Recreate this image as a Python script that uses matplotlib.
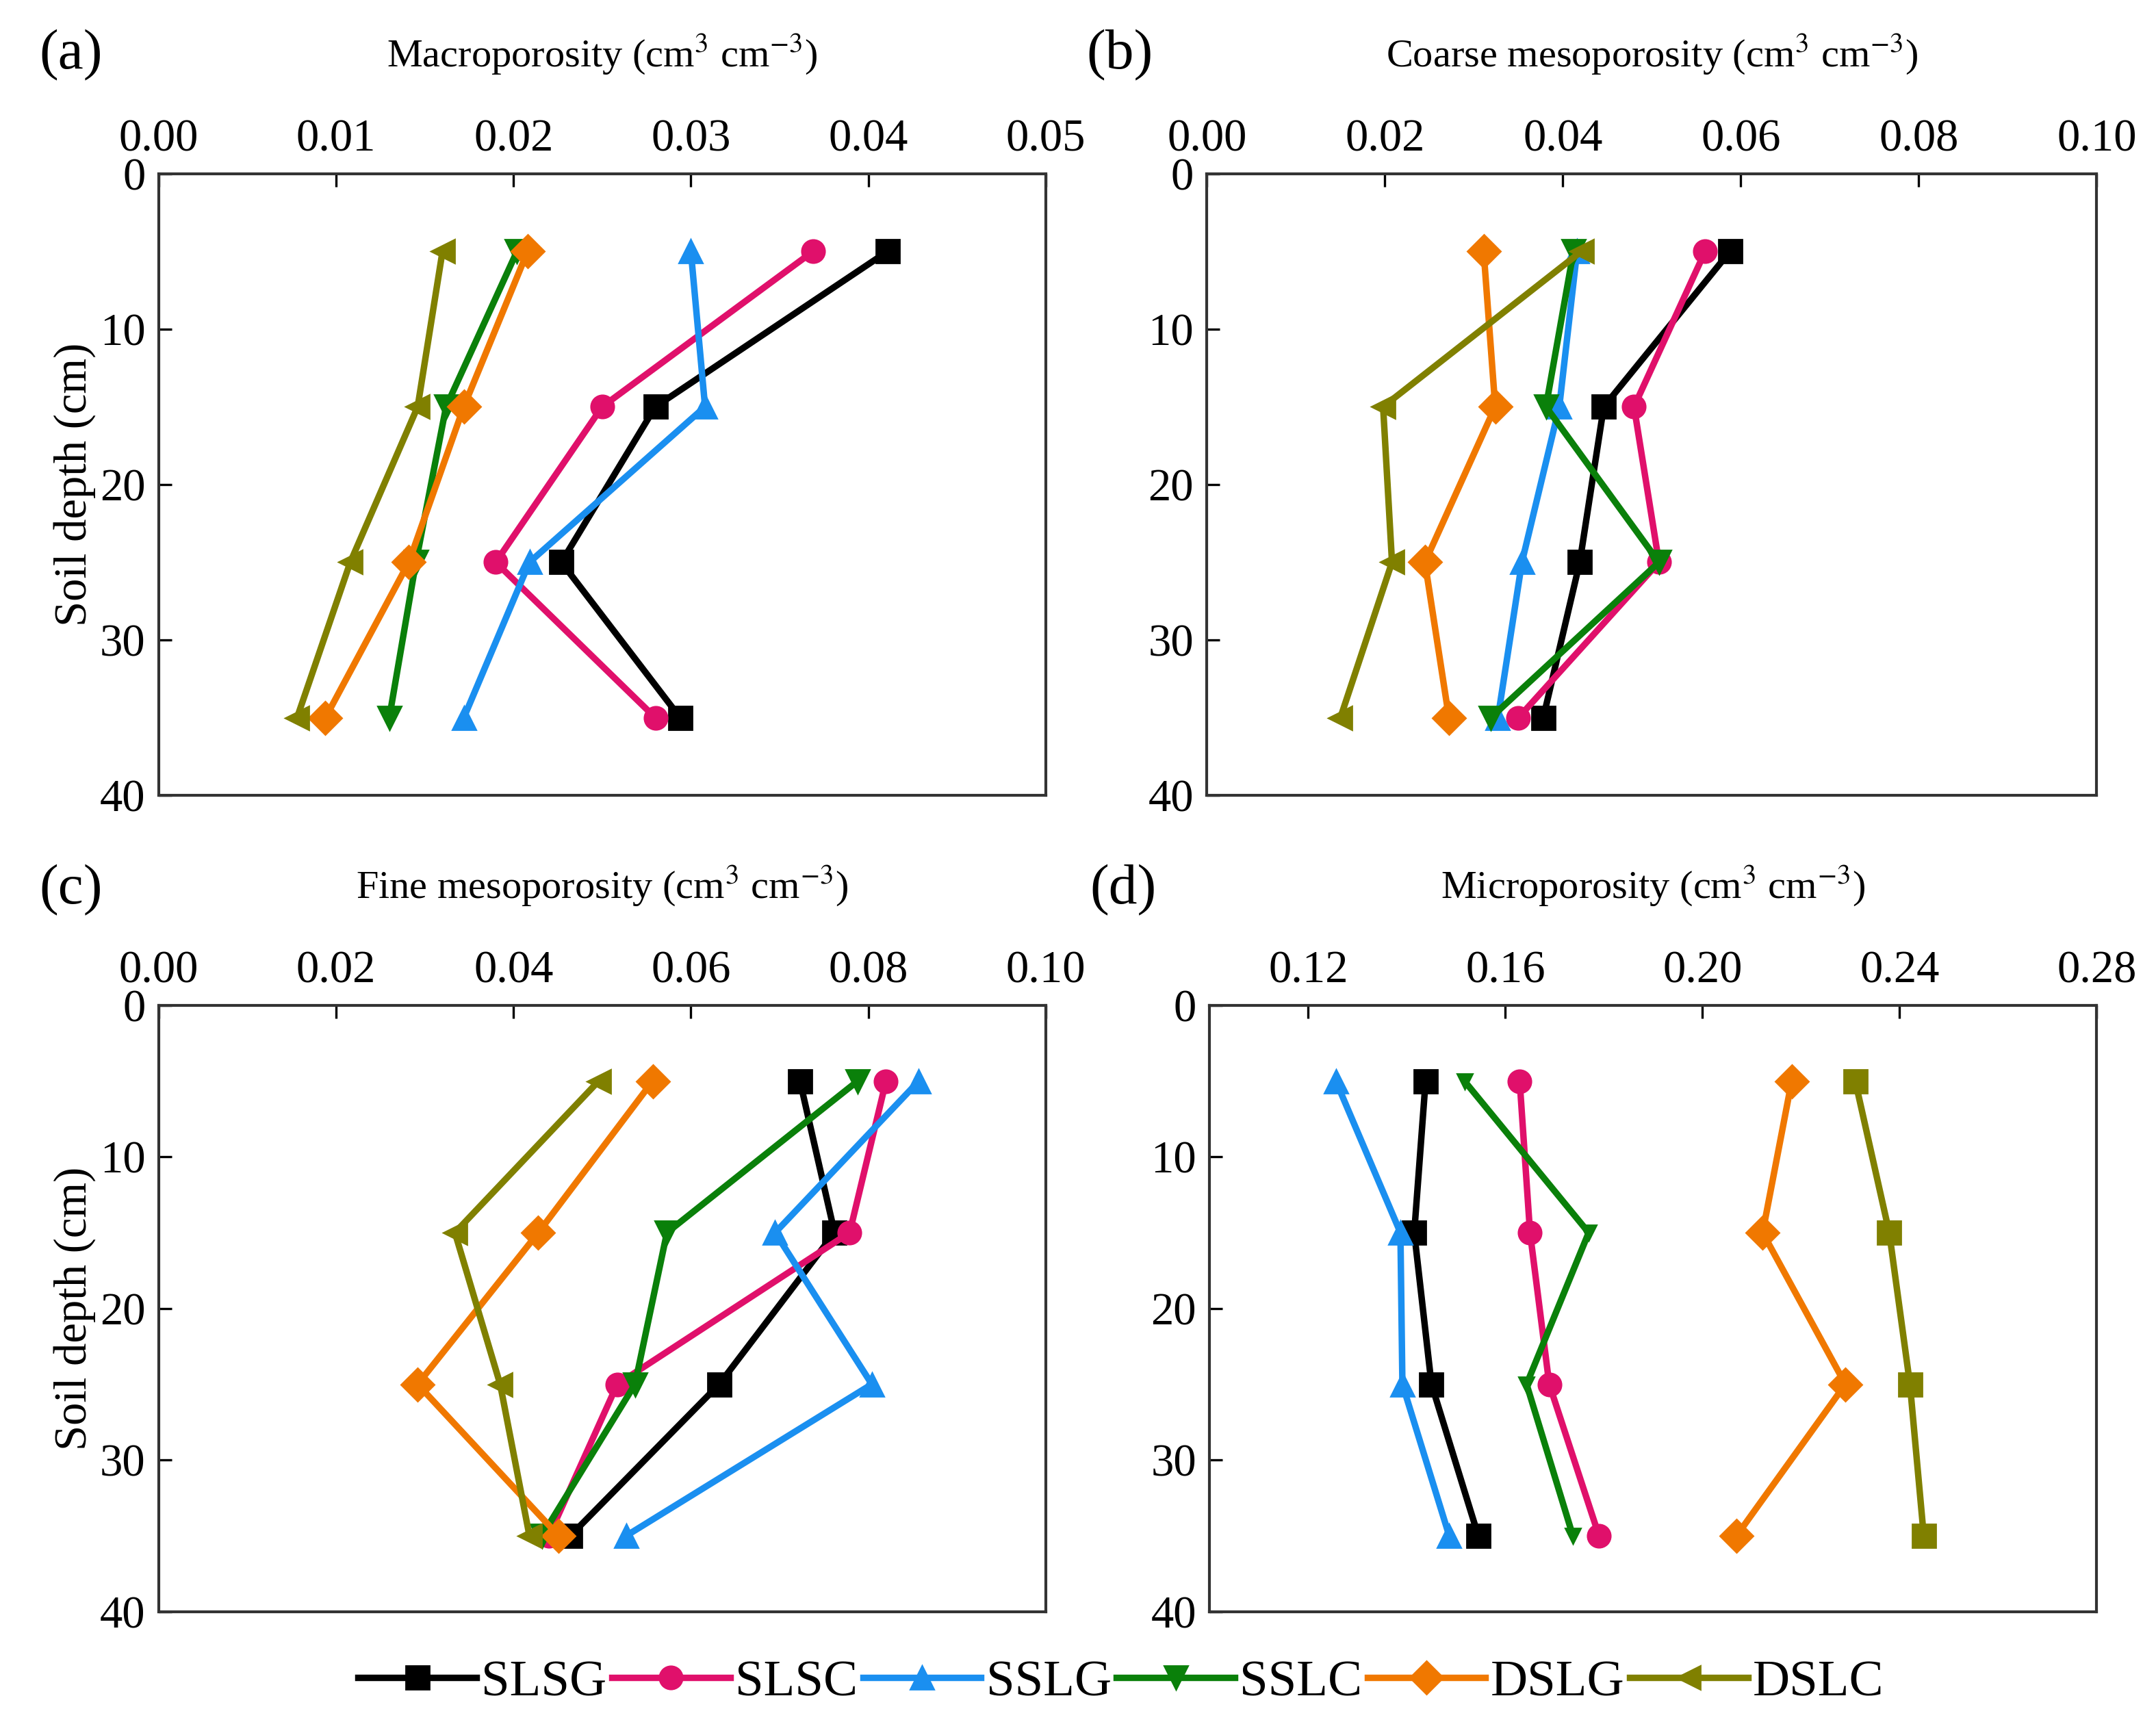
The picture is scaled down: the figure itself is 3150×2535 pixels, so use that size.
import matplotlib
matplotlib.use('Agg')
import matplotlib.pyplot as plt
from matplotlib.ticker import FormatStrFormatter

plt.rcParams['font.family'] = 'serif'
plt.rcParams['font.serif'] = ['Liberation Serif', 'DejaVu Serif']
plt.rcParams['mathtext.fontset'] = 'stix'

depth = [5, 15, 25, 35]
series = ['SLSG', 'SLSC', 'SSLG', 'SSLC', 'DSLG', 'DSLC']

# (a) Macroporosity
macro = {
    'SLSG': [0.0411, 0.0280, 0.0227, 0.0294],
    'SLSC': [0.0369, 0.0250, 0.0190, 0.0280],
    'SSLG': [0.0300, 0.0308, 0.0209, 0.0172],
    'SSLC': [0.0202, 0.0162, 0.0145, 0.0130],
    'DSLG': [0.0208, 0.0172, 0.0141, 0.0094],
    'DSLC': [0.0160, 0.0146, 0.0108, 0.0078],
}
# (b) Coarse mesoporosity
coarse = {
    'SLSG': [0.0588, 0.0446, 0.0419, 0.0378],
    'SLSC': [0.0560, 0.0480, 0.0508, 0.0350],
    'SSLG': [0.0416, 0.0396, 0.0354, 0.0327],
    'SSLC': [0.0412, 0.0381, 0.0508, 0.0319],
    'DSLG': [0.0311, 0.0324, 0.0245, 0.0272],
    'DSLC': [0.0421, 0.0198, 0.0208, 0.0150],
}
# (c) Fine mesoporosity
fine = {
    'SLSG': [0.0723, 0.0762, 0.0632, 0.0464],
    'SLSC': [0.0820, 0.0779, 0.0517, 0.0440],
    'SSLG': [0.0857, 0.0695, 0.0804, 0.0527],
    'SSLC': [0.0788, 0.0573, 0.0537, 0.0432],
    'DSLG': [0.0557, 0.0428, 0.0292, 0.0451],
    'DSLC': [0.0496, 0.0334, 0.0385, 0.0418],
}
# (d) Microporosity
micro = {
    'SLSG': [0.1438, 0.1415, 0.1450, 0.1545],
    'SLSC': [0.1629, 0.1650, 0.1689, 0.1790],
    'SSLG': [0.1256, 0.1387, 0.1391, 0.1486],
    'SSLC': [0.1517, 0.1769, 0.1643, 0.1737],
    'DSLG': [0.2181, 0.2122, 0.2290, 0.2069],
    'DSLC': [0.2310, 0.2379, 0.2421, 0.2449],
}

colors = {'SLSG': '#000000', 'SLSC': '#e0106b', 'SSLG': '#1a8ff0',
          'SSLC': '#0a800a', 'DSLG': '#f07800', 'DSLC': '#808000'}
markers = {'SLSG': 's', 'SLSC': 'o', 'SSLG': '^', 'SSLC': 'v',
           'DSLG': 'D', 'DSLC': '<'}

panels = [
    ('(a)', 'Macroporosity (cm$^{3}$ cm$^{-3}$)', macro, (0, 0.05), [0, 0.01, 0.02, 0.03, 0.04, 0.05],
     [0.0736, 0.5415, 0.4114, 0.3585]),
    ('(b)', 'Coarse mesoporosity (cm$^{3}$ cm$^{-3}$)', coarse, (0, 0.10), [0, 0.02, 0.04, 0.06, 0.08, 0.10],
     [0.5598, 0.5415, 0.4127, 0.3585]),
    ('(c)', 'Fine mesoporosity (cm$^{3}$ cm$^{-3}$)', fine, (0, 0.10), [0, 0.02, 0.04, 0.06, 0.08, 0.10],
     [0.0736, 0.0711, 0.4114, 0.3495]),
    ('(d)', 'Microporosity (cm$^{3}$ cm$^{-3}$)', micro, (0.10, 0.28), [0.12, 0.16, 0.20, 0.24, 0.28],
     [0.5611, 0.0711, 0.4114, 0.3495]),
]

fig = plt.figure(figsize=(15.75, 12.675), dpi=200)

handles = []
for i, (lab, title, data, xlim, xticks, pos) in enumerate(panels):
    ax = fig.add_axes(pos)
    for s in series:
        mk = markers[s]
        ms = 12
        if lab == '(d)' and s == 'DSLC':
            mk = 's'
        if lab == '(d)' and s == 'SSLC':
            ms = 8
        h, = ax.plot(data[s], depth, color=colors[s], marker=mk, markersize=ms,
                     linewidth=3.4, label=s)
        if i == 0:
            handles.append(h)
    ax.set_xlim(*xlim)
    ax.set_ylim(40, 0)
    ax.set_xticks(xticks)
    ax.set_yticks([0, 10, 20, 30, 40])
    ax.xaxis.set_major_formatter(FormatStrFormatter('%.2f'))
    ax.xaxis.tick_top()
    ax.tick_params(axis='both', direction='in', labelsize=24, length=7, width=1.2, pad=7)
    for sp in ax.spines.values():
        sp.set_linewidth(1.5)
        sp.set_color('#333333')
    ax.set_title(title, fontsize=21, pad=56)
    ax.text(-0.135, 1.19, lab, transform=ax.transAxes, fontsize=30, va='center', ha='left')
    if i in (0, 2):
        ax.set_ylabel('Soil depth (cm)', fontsize=24, labelpad=2)

fig.legend(handles=handles, labels=series, loc='center', bbox_to_anchor=(0.52, 0.03),
           ncol=6, frameon=False, fontsize=27, handlelength=2.3, handletextpad=0.1,
           columnspacing=0.1)

fig.savefig('out.png', dpi=200)
